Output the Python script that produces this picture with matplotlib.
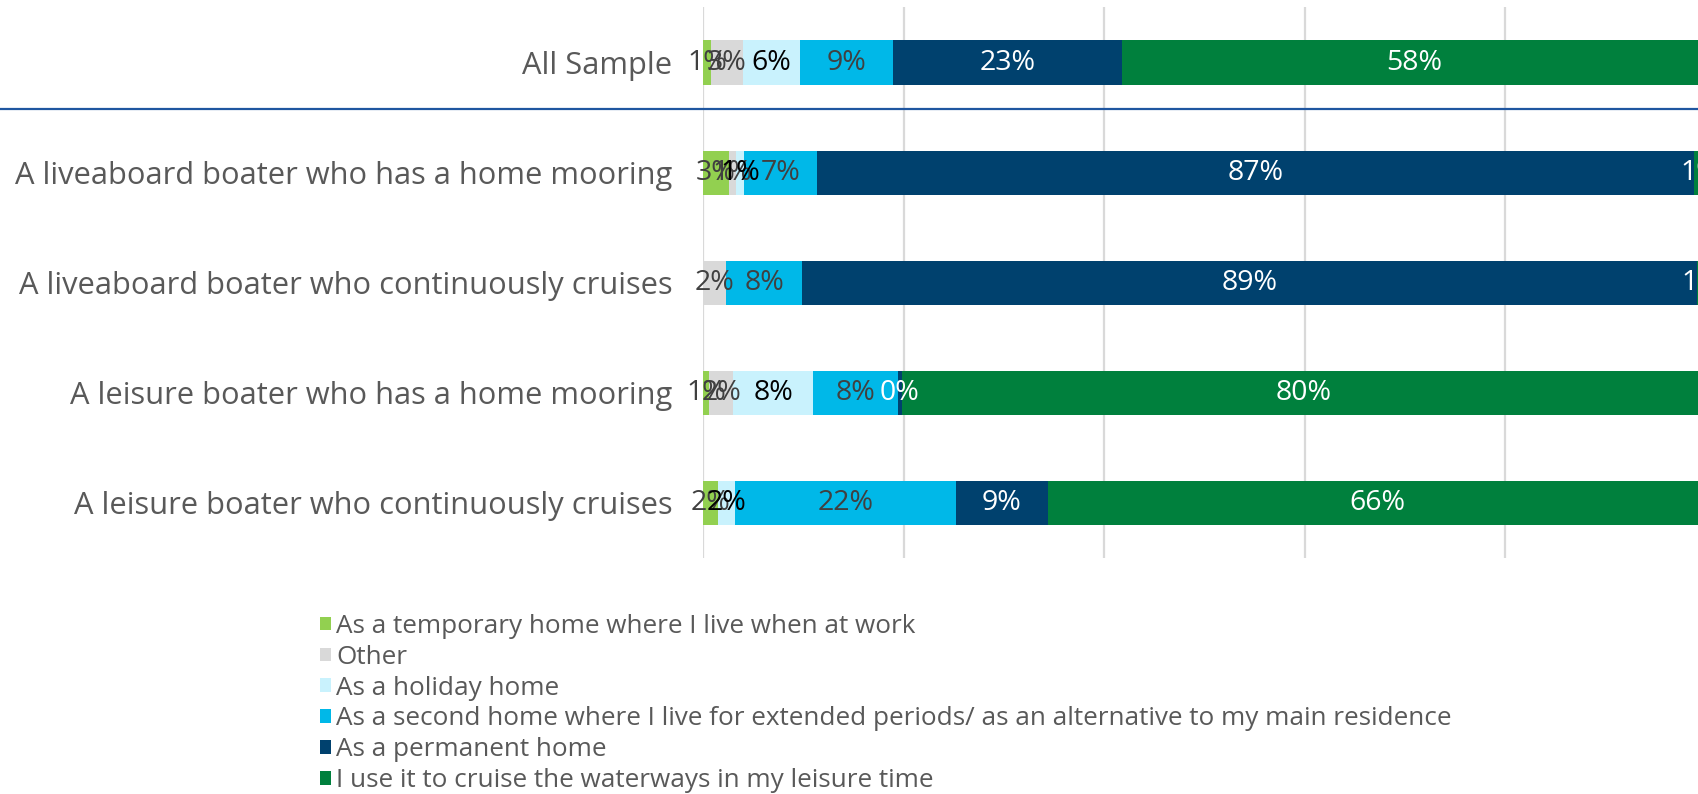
import matplotlib
matplotlib.use("Agg")
import matplotlib.pyplot as plt
from matplotlib.lines import Line2D
from matplotlib.patches import Patch
import numpy as np

plt.rcParams["font.family"] = ["Open Sans", "DejaVu Sans"]

# ── data ─────────────────────────────────────────────────────────────────────
groups = [
    "All Sample",
    "A liveaboard boater who has a home mooring",
    "A liveaboard boater who continuously cruises",
    "A leisure boater who has a home mooring",
    "A leisure boater who continuously cruises",
]
series = [
    "As a temporary home where I live when at work",
    "Other",
    "As a holiday home",
    "As a second home where I live for extended periods/ as an alternative to my main residence",
    "As a permanent home",
    "I use it to cruise the waterways in my leisure time",
]
temporary = [0.8, 2.6, 0.0, 0.6, 1.5]
other     = [3.2, 0.7, 2.3, 2.4, 0.0]
holiday   = [5.7, 0.8, 0.0, 8.0, 1.7]
second    = [9.2, 7.3, 7.6, 8.4, 22.0]
permanent = [22.9, 87.4, 89.2, 0.4, 9.2]
leisure   = [58.2, 1.2, 0.9, 80.2, 65.6]

colors      = ["#92D050", "#D9D9D9", "#C9F2FD", "#00B8E8", "#00416E", "#00803D"]
text_colors = ["#404040", "#404040", "#000000", "#404040", "#FFFFFF", "#FFFFFF"]

values = np.array([temporary, other, holiday, second, permanent, leisure])

# ── figure ───────────────────────────────────────────────────────────────────
fig = plt.figure(figsize=(16.98, 7.94), dpi=100)
ax = fig.add_axes([0.414, 0.2972, 0.5907, 0.6934])

y = np.arange(len(groups))
left = np.zeros(len(groups))
for k, (name, col, tcol) in enumerate(zip(series, colors, text_colors)):
    vals = values[k]
    ax.barh(y, vals, left=left, height=0.4, color=col, label=name, zorder=3)
    for i, v in enumerate(vals):
        if v > 0:
            ax.text(left[i] + v / 2, y[i], f"{v:.0f}%", ha="center", va="center",
                    fontsize=20.5, color=tcol, zorder=4)
    left += vals

ax.set_xlim(0, 100)
ax.set_ylim(len(groups) - 0.5, -0.5)
ax.set_xticks(np.arange(0, 101, 20))
ax.set_xticklabels([])
ax.xaxis.grid(True, color="#D9D9D9", linewidth=1.6, zorder=0)
ax.set_yticks(y)
ax.set_yticklabels(groups, fontsize=22.2, color="#595959")
ax.tick_params(axis="both", length=0)
ax.tick_params(axis="y", pad=22)
for s in ax.spines.values():
    s.set_visible(False)

# divider under the overall row
fig.add_artist(Line2D([0, 1], [0.8627, 0.8627], transform=fig.transFigure,
                      color="#1F56A0", linewidth=1.6))

handles = [Patch(facecolor=c, edgecolor="none") for c in colors]
leg = fig.legend(handles, series, loc="upper left", bbox_to_anchor=(0.1885, 0.227),
                 frameon=False, fontsize=18.8, handlelength=0.42, handleheight=0.42,
                 handletextpad=0.2, labelspacing=0.225, borderpad=0, borderaxespad=0)
for t in leg.get_texts():
    t.set_color("#595959")

fig.savefig("out.png", dpi=100, facecolor="white")
